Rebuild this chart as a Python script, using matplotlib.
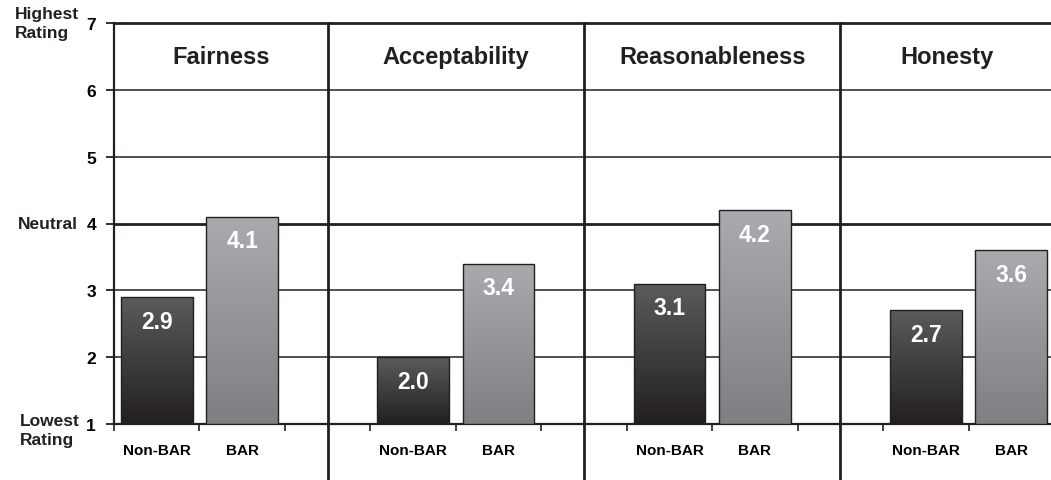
import numpy as np
import matplotlib
matplotlib.use("Agg")
from matplotlib import pyplot as plt
from matplotlib.colors import LinearSegmentedColormap

plt.rcParams['font.family'] = ['Liberation Sans', 'DejaVu Sans']
plt.rcParams['font.weight'] = 'bold'

measures = ["Fairness", "Acceptability", "Reasonableness", "Honesty"]
groups = ["Non-BAR", "BAR"]
non_bar = [2.9, 2.0, 3.1, 2.7]
bar = [4.1, 3.4, 4.2, 3.6]

fig = plt.figure(figsize=(10.51, 4.81), dpi=100)
ax = fig.add_axes([114 / 1051, 1 - 425 / 481, (1054 - 114) / 1051, 401 / 481])

ink = "#231f20"
dark = LinearSegmentedColormap.from_list("dark", ["#231f20", "#5a5b5d"])
light = LinearSegmentedColormap.from_list("light", ["#7d7f82", "#a9abae"])
grad = np.linspace(0, 1, 256).reshape(-1, 1)

# gridlines
for y in [2, 3, 5, 6]:
    ax.axhline(y, color=ink, lw=1.1, zorder=1)
for y in [4, 7]:
    ax.axhline(y, color=ink, lw=2.0, zorder=1, clip_on=False)

for i, m in enumerate(measures):
    x0 = i * 3
    for j, (v, cmap) in enumerate([(non_bar[i], dark), (bar[i], light)]):
        xc = x0 + j + 0.5
        b = ax.bar(xc, v - 1, bottom=1, width=0.84, facecolor="none",
                   edgecolor=ink, lw=1.0, zorder=4)[0]
        im = ax.imshow(grad, cmap=cmap, origin="lower", aspect="auto",
                       extent=[xc - 0.42, xc + 0.42, 1, v], zorder=3)
        im.set_clip_path(b)
        ax.text(xc, v - 0.36, f"{v:.1f}", color="white", fontsize=16.5,
                fontweight="bold", ha="center", va="center", zorder=5)
    # panel titles
    left = x0 - 0.5 if i > 0 else 0
    right = x0 + 2.5 if i < 3 else 11
    ax.text((left + right) / 2, 6.5, m, fontsize=17, fontweight="bold",
            ha="center", va="center", color=ink)
    if i < 3:
        ax.plot([x0 + 2.5, x0 + 2.5], [7, 1 - 55 / 66.8], color=ink, lw=2.0,
                clip_on=False, zorder=6)

ax.set_xlim(0, 11)
ax.set_ylim(1, 7)

for s in ["top", "right"]:
    ax.spines[s].set_visible(False)
ax.spines["left"].set_linewidth(1.6)
ax.spines["left"].set_color(ink)
ax.spines["bottom"].set_linewidth(1.6)
ax.spines["bottom"].set_color(ink)

ax.set_yticks(range(1, 8))
ax.set_yticklabels([str(t) for t in range(1, 8)], fontsize=12.5, fontweight="bold")
ax.tick_params(axis="y", length=6, width=1.3, color=ink, pad=7)

ax.set_xticks(range(0, 12))
ax.set_xticklabels([])
ax.tick_params(axis="x", which="major", length=5, width=1.2, color=ink)
pos = []
labels = []
for i in range(4):
    for j in range(2):
        pos.append(i * 3 + j + 0.5)
        labels.append(groups[j])
ax.set_xticks(pos, minor=True)
ax.set_xticklabels(labels, minor=True, fontsize=11, fontweight="bold")
ax.tick_params(axis="x", which="minor", length=0, pad=14)

fig.text(15 / 1051, 1 - 24 / 481, "Highest\nRating", fontsize=12.5, fontweight="bold",
         ha="left", va="center", color=ink, linespacing=1.4)
fig.text(78 / 1051, 1 - 225 / 481, "Neutral", fontsize=12.5, fontweight="bold",
         ha="right", va="center", color=ink)
fig.text(20 / 1051, 1 - 414 / 481, "Lowest\nRating", fontsize=12.5, fontweight="bold",
         ha="left", va="top", color=ink, linespacing=1.35)

plt.savefig("out.png", dpi=100)
